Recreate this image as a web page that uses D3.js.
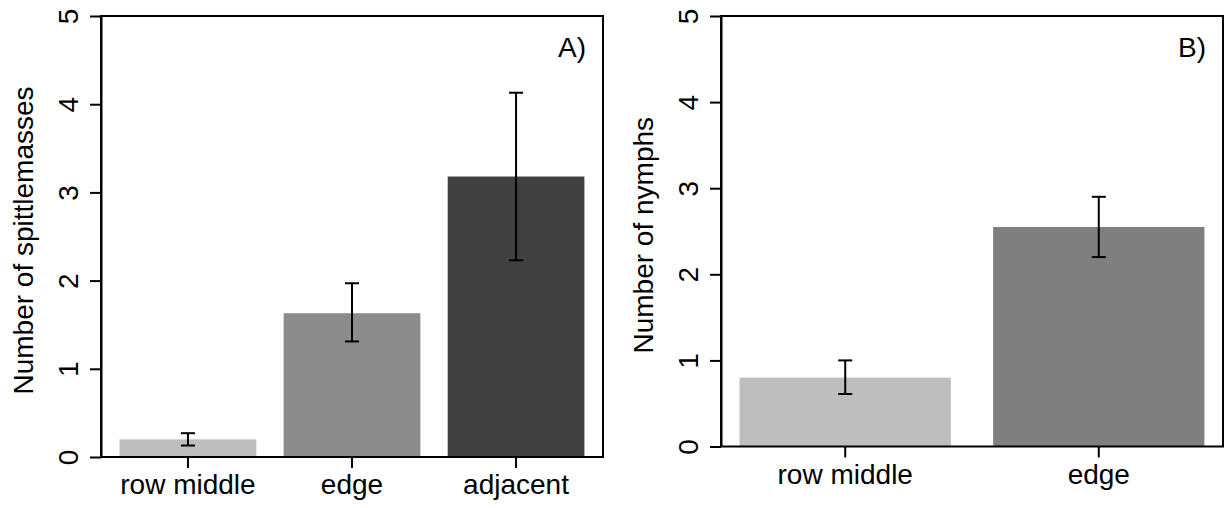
<!DOCTYPE html>
<html>
<head>
<meta charset="utf-8">
<script src="https://cdn.jsdelivr.net/npm/d3@7"></script>
<style>
  body { margin: 0; background: #fff; }
  svg { display: block; font-family: "Liberation Sans", Arial, sans-serif; }
  .axis text { font-size: 28px; fill: #000; }
  .axis line, .axis path { stroke: #000; stroke-width: 2; }
</style>
</head>
<body>
<div id="chart"></div>
<script>
'use strict';

// panel A: spittlemasses
const catsA = ['row middle', 'edge', 'adjacent'],
    meansA = [0.20, 1.63, 3.18],
    lowA = [0.13, 1.31, 2.23],
    highA = [0.27, 1.97, 4.13],
    fillsA = ['#bebebe', '#8c8c8c', '#404040'];

// panel B: nymphs
const catsB = ['row middle', 'edge'],
    meansB = [0.80, 2.55],
    lowB = [0.61, 2.20],
    highB = [1.00, 2.90],
    fillsB = ['#bebebe', '#7f7f7f'];

const yTicks = [0, 1, 2, 3, 4, 5];

const width = 1226,
    height = 508,
    svg = d3.select('#chart').append('svg')
        .attr('width', width)
        .attr('height', height);

function drawPanel(opts) {
    const n = opts.cats.length,
        // R barplot: width 1, space 0.2, 4% axis expansion
        outer = 0.04 * (n * 1.2 - 0.2) / 1.2,
        x = d3.scaleBand()
            .domain(opts.cats)
            .range([opts.left, opts.right])
            .paddingInner(0.2 / 1.2)
            .paddingOuter(outer),
        y = d3.scaleLinear()
            .domain([0, 5])
            .range([opts.bottom, opts.top]);

    const g = svg.append('g');

    g.selectAll('rect.bar')
        .data(opts.cats)
        .join('rect')
        .attr('class', 'bar')
        .attr('x', d => x(d))
        .attr('width', x.bandwidth())
        .attr('y', (d, i) => y(opts.means[i]))
        .attr('height', (d, i) => y(0) - y(opts.means[i]))
        .attr('fill', (d, i) => opts.fills[i]);

    // error bars
    const cap = 7,
        err = g.selectAll('g.err')
            .data(opts.cats)
            .join('g')
            .attr('class', 'err')
            .attr('stroke', '#000')
            .attr('stroke-width', 2);
    err.append('line')
        .attr('x1', d => x(d) + x.bandwidth() / 2)
        .attr('x2', d => x(d) + x.bandwidth() / 2)
        .attr('y1', (d, i) => y(opts.low[i]))
        .attr('y2', (d, i) => y(opts.high[i]));
    err.append('line')
        .attr('x1', d => x(d) + x.bandwidth() / 2 - cap)
        .attr('x2', d => x(d) + x.bandwidth() / 2 + cap)
        .attr('y1', (d, i) => y(opts.high[i]))
        .attr('y2', (d, i) => y(opts.high[i]));
    err.append('line')
        .attr('x1', d => x(d) + x.bandwidth() / 2 - cap)
        .attr('x2', d => x(d) + x.bandwidth() / 2 + cap)
        .attr('y1', (d, i) => y(opts.low[i]))
        .attr('y2', (d, i) => y(opts.low[i]));

    // box
    g.append('rect')
        .attr('x', opts.left)
        .attr('y', opts.top)
        .attr('width', opts.right - opts.left)
        .attr('height', opts.bottom - opts.top)
        .attr('fill', 'none')
        .attr('stroke', '#000')
        .attr('stroke-width', 2);

    // y axis, labels rotated like R's las=0
    const ya = g.append('g')
        .attr('class', 'axis')
        .attr('transform', 'translate(' + opts.left + ',0)')
        .call(d3.axisLeft(y).tickValues(yTicks).tickSize(11).tickSizeOuter(0).tickFormat(d3.format('d')));
    ya.selectAll('text')
        .attr('x', null)
        .attr('dy', null)
        .attr('text-anchor', 'middle')
        .attr('transform', 'translate(-23,0) rotate(-90)');

    // x axis: ticks and labels only
    const xa = g.append('g')
        .attr('class', 'axis')
        .attr('transform', 'translate(0,' + opts.bottom + ')')
        .call(d3.axisBottom(x).tickSize(11).tickSizeOuter(0));
    xa.select('.domain').remove();
    xa.selectAll('text')
        .attr('y', 37)
        .attr('dy', null);

    // y axis title
    g.append('text')
        .attr('transform', 'translate(' + (opts.left - 68) + ',' + ((opts.top + opts.bottom) / 2 + 4) + ') rotate(-90)')
        .attr('text-anchor', 'middle')
        .style('font-size', '28px')
        .text(opts.ylabel);

    // panel tag
    g.append('text')
        .attr('x', opts.right - 17)
        .attr('y', 57)
        .attr('text-anchor', 'end')
        .style('font-size', '28px')
        .text(opts.tag);
}

drawPanel({
    cats: catsA, means: meansA, low: lowA, high: highA, fills: fillsA,
    left: 101, right: 603, top: 16, bottom: 457,
    ylabel: 'Number of spittlemasses', tag: 'A)'
});

drawPanel({
    cats: catsB, means: meansB, low: lowB, high: highB, fills: fillsB,
    left: 721, right: 1223, top: 16, bottom: 446.5,
    ylabel: 'Number of nymphs', tag: 'B)'
});
</script>
</body>
</html>
